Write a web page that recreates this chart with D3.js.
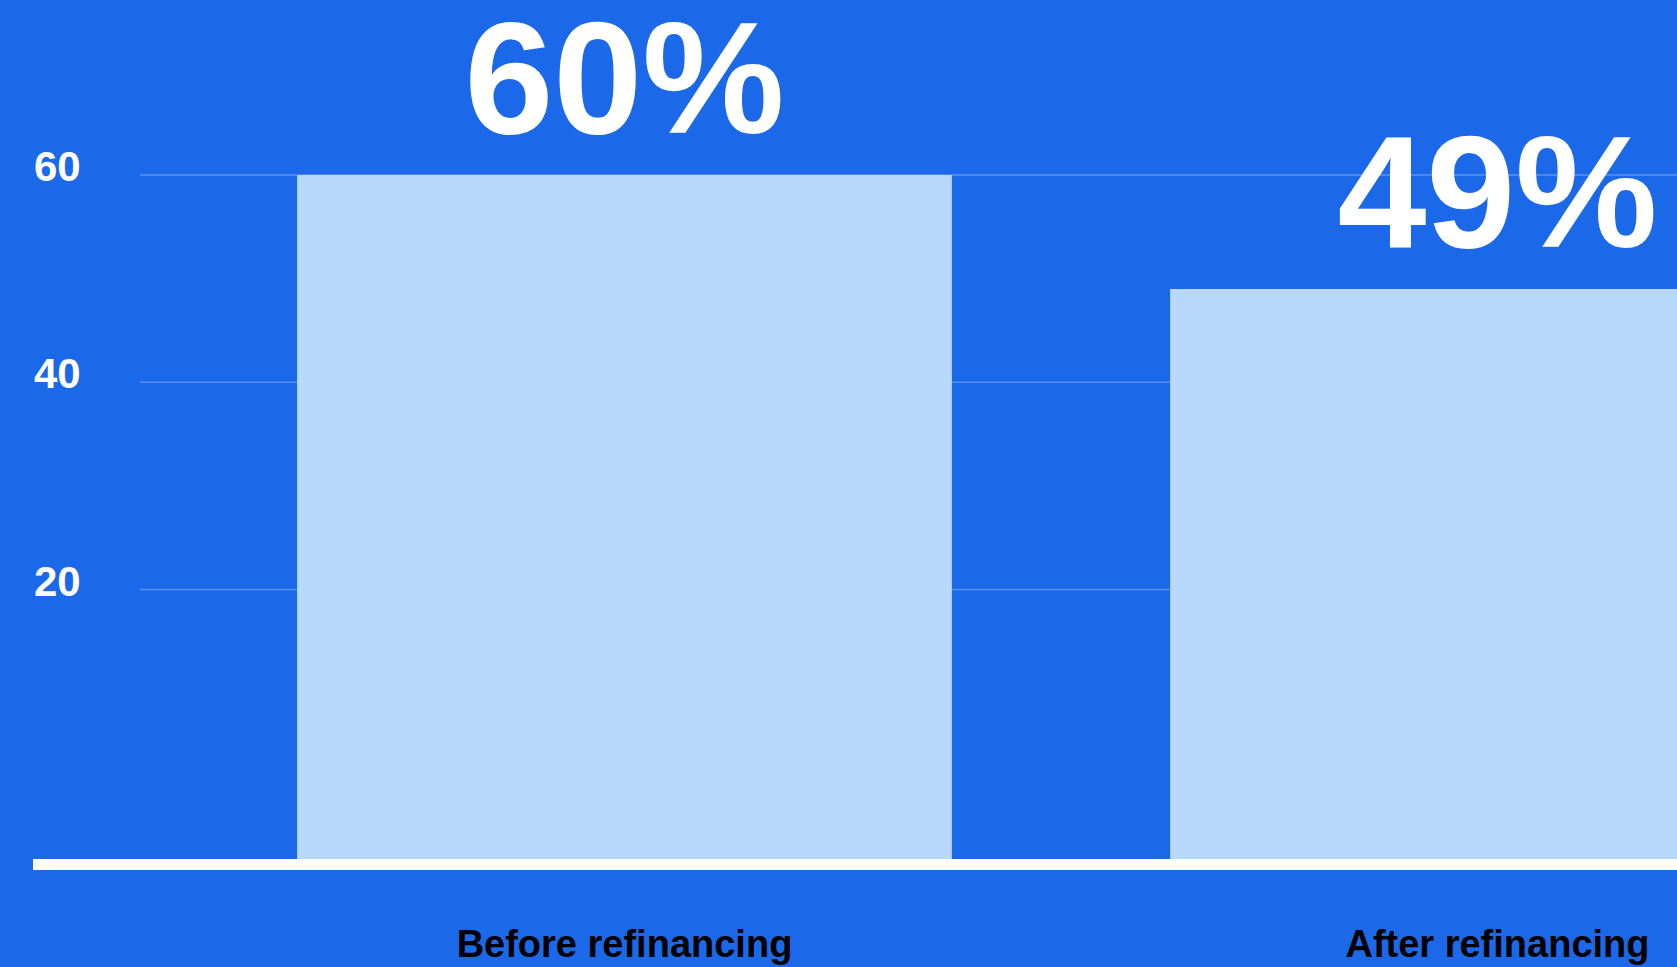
<!DOCTYPE html>
<html>
<head>
<meta charset="utf-8">
<script src="https://cdn.jsdelivr.net/npm/d3@7"></script>
<style>
  html, body { margin: 0; padding: 0; background: #1B69E8; overflow: hidden; }
  svg { display: block; }
</style>
</head>
<body>
<svg id="chart" width="1677" height="967"></svg>
<script>
// Share of income going to debt payments, before and after refinancing
const categories = ["Before refinancing", "After refinancing"];
const values = [60, 49];
const valueLabels = ["60%", "49%"];
const tickValues = [20, 40, 60];
const tickLabels = ["20", "40", "60"];
const yDomain = [-6, 60];

const colors = {
  background: "#1B69E8",
  bar: "#B9D9FC",
  grid: "rgba(255,255,255,0.28)",
  axis: "#FFFFFF",
  valueText: "#FFFFFF",
  tickText: "#FFFFFF",
  categoryText: "#000000"
};

const svg = d3.select("#chart");
const W = 1677, H = 967;

svg.append("rect").attr("width", W).attr("height", H).attr("fill", colors.background);

// plot area (it runs past the right edge of the page)
const plot = { left: 140, right: 1982, top: 175, bottom: 859 };

const x = d3.scaleBand()
  .domain(categories)
  .range([plot.left, plot.right])
  .paddingInner(0.25)
  .paddingOuter(0.18);

const y = d3.scaleLinear()
  .domain(yDomain)
  .range([plot.bottom, plot.top]);

// gridlines
svg.append("g")
  .selectAll("line")
  .data(tickValues)
  .join("line")
  .attr("x1", plot.left)
  .attr("x2", W + 400)
  .attr("y1", d => y(d))
  .attr("y2", d => y(d))
  .attr("stroke", colors.grid)
  .attr("stroke-width", 1.5);

// y tick labels
svg.append("g")
  .selectAll("text")
  .data(tickValues)
  .join("text")
  .attr("x", 34)
  .attr("y", d => y(d) + 6)
  .attr("fill", colors.tickText)
  .attr("font-family", "'Liberation Sans', Arial, sans-serif")
  .attr("font-weight", 700)
  .attr("font-size", 42)
  .text((d, i) => tickLabels[i]);

// bars
svg.append("g")
  .selectAll("rect")
  .data(values)
  .join("rect")
  .attr("x", (d, i) => x(categories[i]))
  .attr("width", x.bandwidth())
  .attr("y", d => y(d))
  .attr("height", d => y(yDomain[0]) - y(d))
  .attr("fill", colors.bar);

// baseline
svg.append("rect")
  .attr("x", 33)
  .attr("y", plot.bottom)
  .attr("width", W + 400)
  .attr("height", 11)
  .attr("fill", colors.axis);

// value labels above bars
svg.append("g")
  .selectAll("text")
  .data(values)
  .join("text")
  .attr("x", (d, i) => x(categories[i]) + x.bandwidth() / 2)
  .attr("y", d => y(d) - 42)
  .attr("text-anchor", "middle")
  .attr("fill", colors.valueText)
  .attr("font-family", "'Liberation Sans', Arial, sans-serif")
  .attr("font-weight", 700)
  .attr("font-size", 160)
  .text((d, i) => valueLabels[i]);

// category labels
svg.append("g")
  .selectAll("text")
  .data(categories)
  .join("text")
  .attr("x", d => x(d) + x.bandwidth() / 2)
  .attr("y", 957)
  .attr("text-anchor", "middle")
  .attr("fill", colors.categoryText)
  .attr("font-family", "'Liberation Sans', Arial, sans-serif")
  .attr("font-weight", 700)
  .attr("font-size", 38)
  .text(d => d);
</script>
</body>
</html>
